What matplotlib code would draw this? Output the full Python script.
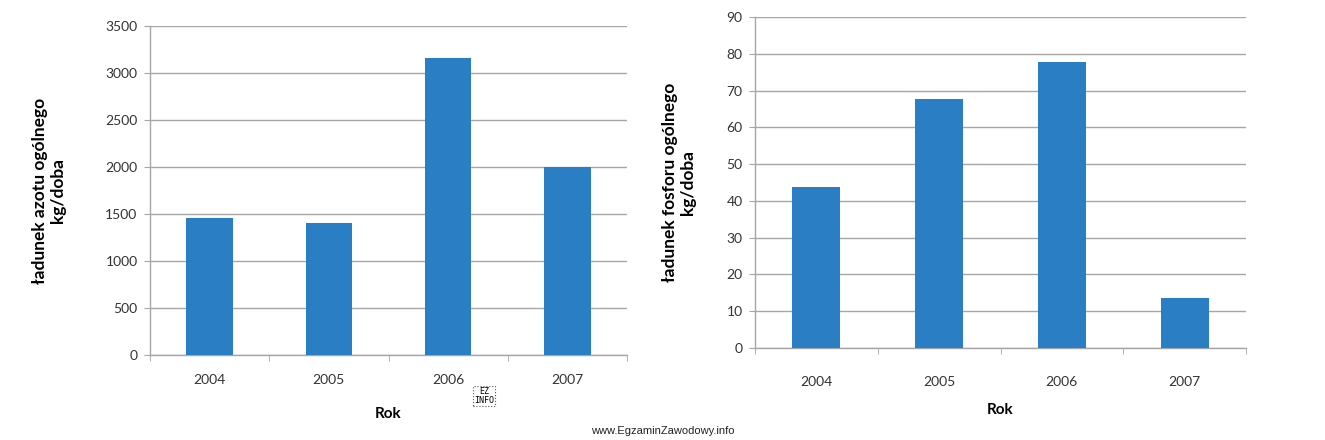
import matplotlib.pyplot as plt
import numpy as np

years = ["2004", "2005", "2006", "2007"]
nitrogen = [1455, 1405, 3160, 2000]
phosphorus = [43.8, 67.6, 77.7, 13.7]

plt.rcParams["font.family"] = ["Lato", "DejaVu Sans"]

BAR = "#2a7ec4"
GRID = "#a6a6a6"

fig = plt.figure(figsize=(13.25, 4.4), dpi=100)


def style_axes(ax, values, ymax, step, ylabel):
    x = np.arange(len(years))
    ax.bar(x, values, width=0.39, color=BAR, zorder=3)
    ax.set_xlim(-0.5, len(years) - 0.5)
    ax.set_ylim(0, ymax)
    ax.set_yticks(np.arange(0, ymax + step, step))
    ax.set_xticks(x)
    ax.set_xticklabels(years)
    # small tick marks between categories like excel
    ax.set_xticks(np.arange(-0.5, len(years), 1.0), minor=True)
    ax.tick_params(axis="x", which="major", length=0, pad=14, labelsize=10, labelcolor="#333333")
    ax.tick_params(axis="x", which="minor", length=4, color=GRID, direction="out")
    ax.tick_params(axis="y", length=4, color=GRID, labelsize=10, labelcolor="#333333", pad=5)
    ax.grid(axis="y", color=GRID, linewidth=1, zorder=0)
    for s in ["top", "right"]:
        ax.spines[s].set_visible(False)
    for s in ["left", "bottom"]:
        ax.spines[s].set_color(GRID)
        ax.spines[s].set_linewidth(1)
    ax.set_xlabel("Rok", fontweight="bold", fontsize=11, labelpad=10)
    ax.set_ylabel(ylabel, fontweight="bold", fontsize=12.5, labelpad=22, linespacing=1.15)


ax1 = fig.add_axes([150 / 1325, 85 / 440, 477 / 1325, 329 / 440])
style_axes(ax1, nitrogen, 3500, 500, "ładunek azotu ogólnego\nkg/doba")
ax1.xaxis.labelpad = 15
ax1.yaxis.labelpad = 28

ax2 = fig.add_axes([755 / 1325, 92 / 440, 491 / 1325, 331 / 440])
style_axes(ax2, phosphorus, 90, 10, "ładunek fosforu ogólnego\nkg/doba")
ax2.tick_params(axis="x", which="major", pad=20)
ax2.xaxis.labelpad = 11
ax2.yaxis.labelpad = 22

fig.text(484 / 1325, 1 - 396 / 440, "EZ\nINFO", fontsize=6, ha="center", va="center",
         family="DejaVu Sans Mono", linespacing=0.9,
         bbox=dict(boxstyle="square,pad=0.15", fc="white", ec="#555555", ls=":", lw=0.8))
fig.text(663 / 1325, 1 - 431 / 440, "www.EgzaminZawodowy.info", fontsize=8,
         ha="center", va="center", family="Liberation Sans", color="#222222")

fig.savefig("out.png", dpi=100)
